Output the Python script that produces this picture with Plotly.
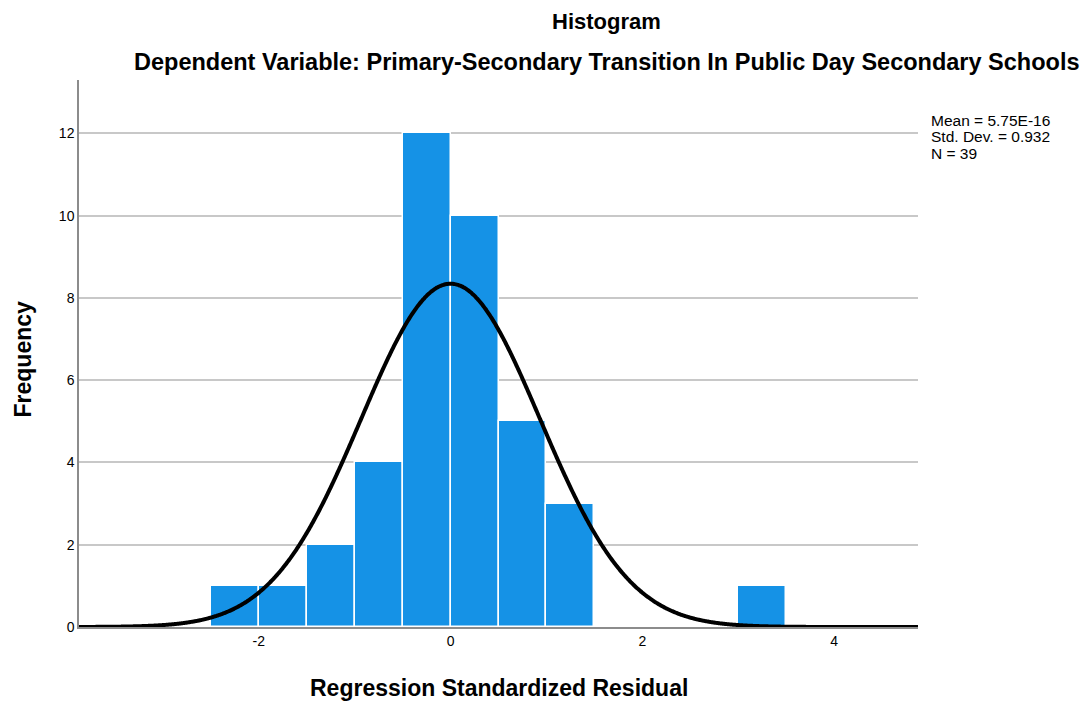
import numpy as np
import plotly.graph_objects as go

# Data
bin_left = [-2.5, -2.0, -1.5, -1.0, -0.5, 0.0, 0.5, 1.0, 3.0]
counts = [1, 1, 2, 4, 12, 10, 5, 3, 1]
bin_width = 0.5
mean_val = 5.75e-16
std_val = 0.932
n_obs = 39
x_ticks = [-2, 0, 2, 4]
x_tick_text = ["-2", "0", "2", "4"]
y_ticks = [0, 2, 4, 6, 8, 10, 12]
stat_lines = ["Mean = 5.75E-16", "Std. Dev. = 0.932", "N = 39"]

x_range = [-3.875, 4.875]
y_range = [0, 13.3]

centers = [b + bin_width / 2 for b in bin_left]

xs = np.linspace(x_range[0], x_range[1], 800)
ys = n_obs * bin_width / (std_val * np.sqrt(2 * np.pi)) * np.exp(-0.5 * ((xs - mean_val) / std_val) ** 2)

font = "Liberation Sans, Arial, sans-serif"

fig = go.Figure()
fig.add_trace(go.Bar(
    x=centers, y=counts, width=bin_width,
    marker=dict(color="#1592E6", line=dict(color="white", width=1.5)),
    hoverinfo="x+y", showlegend=False,
))
fig.add_trace(go.Scatter(
    x=xs, y=ys, mode="lines",
    line=dict(color="black", width=4, shape="spline"), showlegend=False, hoverinfo="skip",
))

annotations = [
    dict(text="<b>Histogram</b>", xref="paper", yref="paper", x=0.629, y=1,
         yshift=59, showarrow=False, xanchor="center", yanchor="middle", font=dict(size=22)),
    dict(text="<b>Dependent Variable: Primary-Secondary Transition In Public Day Secondary Schools</b>",
         xref="paper", yref="paper", x=0.629, y=1, yshift=18, showarrow=False,
         xanchor="center", yanchor="middle", font=dict(size=23.5)),
    dict(text="<b>Regression Standardized Residual</b>", xref="paper", yref="paper",
         x=0.5, y=0, yshift=-61, showarrow=False, xanchor="center", yanchor="middle",
         font=dict(size=23)),
    dict(text="<b>Frequency</b>", xref="paper", yref="paper", x=0, xshift=-57,
         y=0.5, yshift=-6, showarrow=False, xanchor="center", yanchor="middle",
         textangle=-90, font=dict(size=23)),
]
for i, line in enumerate(stat_lines):
    annotations.append(dict(
        text=line, xref="paper", yref="paper", x=1, xshift=11, y=1,
        yshift=-(40 + 16.5 * i), showarrow=False, xanchor="left", yanchor="middle",
        align="left", font=dict(size=15.5)))

fig.update_layout(
    width=1080, height=695,
    margin=dict(l=71, r=170, t=72, b=76),
    plot_bgcolor="white", paper_bgcolor="white",
    font=dict(family=font, color="black", size=14),
    bargap=0,
    xaxis=dict(
        range=x_range, tickvals=x_ticks, ticktext=x_tick_text, ticks="", showgrid=False,
        zeroline=False, showline=True, linecolor="#8c8c8c", linewidth=1.5,
        tickfont=dict(size=14),
    ),
    yaxis=dict(
        range=y_range, tickvals=y_ticks, ticks="", showgrid=True, gridcolor="#C8C8C8", gridwidth=1.5,
        zeroline=False, showline=True, linecolor="#8c8c8c", linewidth=1.5,
        tickfont=dict(size=14),
    ),
    annotations=annotations,
)

fig.write_html("out.html")
